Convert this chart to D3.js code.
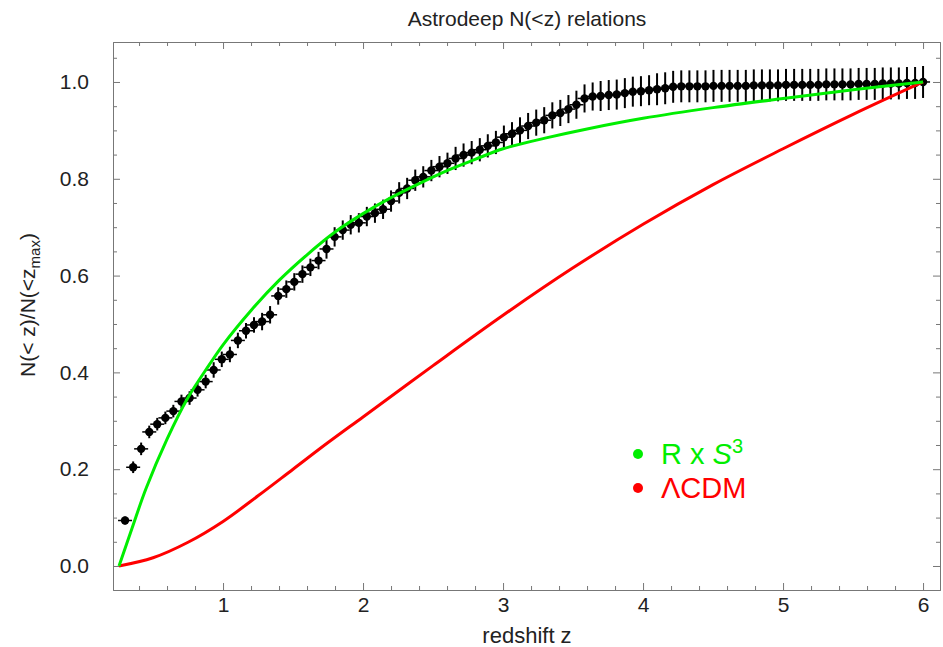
<!DOCTYPE html>
<html lang="en">
<head>
  <meta charset="UTF-8">
  <title>Astrodeep N(<z) relations</title>
  <style>
    body { margin: 0; background: #fff; }
    text { font-family: "Liberation Sans", Arial, sans-serif; }
  </style>
</head>
<body>
  <script src="https://d3js.org/d3.v7.min.js"></script>
  <script>
    // Binned data: redshift, normalised counts, vertical error
    let zVals = [0.300, 0.358, 0.415, 0.473, 0.530, 0.588, 0.645, 0.703, 0.761, 0.818,
      0.876, 0.933, 0.991, 1.049, 1.106, 1.164, 1.221, 1.279, 1.336, 1.394,
      1.452, 1.509, 1.567, 1.624, 1.682, 1.739, 1.797, 1.855, 1.912, 1.970,
      2.027, 2.085, 2.143, 2.200, 2.258, 2.315, 2.373, 2.430, 2.488, 2.546,
      2.603, 2.661, 2.718, 2.776, 2.834, 2.891, 2.949, 3.006, 3.064, 3.121,
      3.179, 3.237, 3.294, 3.352, 3.409, 3.467, 3.524, 3.582, 3.640, 3.697,
      3.755, 3.812, 3.870, 3.927, 3.985, 4.043, 4.100, 4.158, 4.215, 4.273,
      4.331, 4.388, 4.446, 4.503, 4.561, 4.618, 4.676, 4.734, 4.791, 4.849,
      4.906, 4.964, 5.021, 5.079, 5.137, 5.194, 5.252, 5.309, 5.367, 5.424,
      5.482, 5.540, 5.597, 5.655, 5.712, 5.770, 5.827, 5.885, 5.943, 6.000];

    let nVals = [0.094, 0.204, 0.242, 0.277, 0.293, 0.306, 0.320, 0.340, 0.347, 0.364,
      0.381, 0.405, 0.427, 0.437, 0.466, 0.486, 0.498, 0.505, 0.519, 0.558,
      0.572, 0.587, 0.603, 0.617, 0.631, 0.655, 0.680, 0.694, 0.705, 0.709,
      0.722, 0.729, 0.737, 0.754, 0.771, 0.780, 0.797, 0.804, 0.817, 0.825,
      0.832, 0.842, 0.849, 0.854, 0.860, 0.868, 0.875, 0.886, 0.893, 0.900,
      0.909, 0.916, 0.921, 0.931, 0.936, 0.944, 0.953, 0.966, 0.970, 0.971,
      0.973, 0.974, 0.977, 0.980, 0.981, 0.983, 0.985, 0.987, 0.990, 0.991,
      0.991, 0.991, 0.991, 0.992, 0.992, 0.992, 0.992, 0.992, 0.993, 0.993,
      0.993, 0.993, 0.994, 0.994, 0.994, 0.994, 0.994, 0.995, 0.995, 0.995,
      0.995, 0.996, 0.996, 0.996, 0.997, 0.997, 0.997, 0.998, 0.998, 1.000];

    let nErr = [0.008, 0.012, 0.013, 0.013, 0.013, 0.013, 0.013, 0.014, 0.014, 0.014,
      0.014, 0.016, 0.016, 0.016, 0.016, 0.016, 0.016, 0.018, 0.018, 0.018,
      0.018, 0.018, 0.018, 0.018, 0.018, 0.020, 0.020, 0.020, 0.020, 0.020,
      0.020, 0.020, 0.020, 0.022, 0.022, 0.022, 0.022, 0.022, 0.022, 0.022,
      0.022, 0.024, 0.024, 0.024, 0.024, 0.024, 0.024, 0.024, 0.024, 0.027,
      0.027, 0.027, 0.027, 0.027, 0.027, 0.029, 0.029, 0.029, 0.029, 0.031,
      0.031, 0.031, 0.031, 0.031, 0.031, 0.031, 0.033, 0.033, 0.033, 0.033,
      0.033, 0.033, 0.033, 0.033, 0.033, 0.033, 0.033, 0.033, 0.033, 0.033,
      0.033, 0.033, 0.033, 0.033, 0.033, 0.033, 0.033, 0.033, 0.033, 0.033,
      0.033, 0.033, 0.033, 0.033, 0.033, 0.033, 0.033, 0.033, 0.033, 0.033];

    // horizontal half-width of each bin
    let zErr = 0.05;

    // R x S^3 model curve
    let rsZ = [0.257, 0.35, 0.45, 0.6, 0.75, 0.9, 1.0, 1.2, 1.4, 1.6, 1.8, 2.0,
      2.2, 2.4, 2.6, 2.8, 3.0, 3.3, 3.6, 4.0, 4.5, 5.0, 5.5, 6.0];
    let rsN = [0.0, 0.078, 0.160, 0.262, 0.348, 0.415, 0.457, 0.528, 0.590, 0.643, 0.690, 0.728,
      0.761, 0.790, 0.817, 0.840, 0.862, 0.884, 0.903, 0.925, 0.947, 0.966, 0.984, 1.0];

    // LambdaCDM curve
    let lcZ = [0.257, 0.5, 0.75, 1.0, 1.25, 1.5, 1.75, 2.0, 2.5, 3.0, 3.5, 4.0, 4.5, 5.0, 5.5, 6.0];
    let lcN = [0.0, 0.017, 0.049, 0.092, 0.145, 0.200, 0.255, 0.308, 0.414, 0.518, 0.616, 0.706,
      0.788, 0.862, 0.933, 1.0];

    let xTicks = [1, 2, 3, 4, 5, 6];
    let yTicks = [0.0, 0.2, 0.4, 0.6, 0.8, 1.0];

    // SVG size and frame position
    let svgWidth = 943;
    let svgHeight = 647;
    let frame = { left: 113, right: 940, top: 42, bottom: 590 };
    let fontSize = "21px";

    let svg = d3.select("body")
      .append("svg")
      .attr("width", svgWidth)
      .attr("height", svgHeight);

    let x = d3.scaleLinear().domain([0.214, 6.121]).range([frame.left, frame.right]);
    let y = d3.scaleLinear().domain([-0.0496, 1.0826]).range([frame.bottom, frame.top]);

    let xMinor = d3.range(0.4, 6.1, 0.2).filter(v => Math.abs(v - Math.round(v)) > 0.01);
    let yMinor = d3.range(0, 1.06, 0.05).filter(v => Math.abs(v * 5 - Math.round(v * 5)) > 0.01);

    let frameColor = "#777";
    let labelColor = "#222";

    // draw one side of the frame: major ticks (maybe labelled) and minor ticks
    function drawSide(axisFn, scale, pos, major, minor, fmt, pad) {
      let g = svg.append("g").attr("transform", pos);
      g.call(axisFn(scale).tickValues(major).tickSize(-7).tickPadding(pad).tickFormat(fmt || ""));
      let gm = svg.append("g").attr("transform", pos);
      gm.call(axisFn(scale).tickValues(minor).tickSize(-4).tickFormat(""));
      gm.select(".domain").remove();
      svg.selectAll(".domain, .tick line").attr("stroke", frameColor);
      g.selectAll("text").attr("fill", labelColor).style("font-size", fontSize);
      return g;
    }

    drawSide(d3.axisBottom, x, `translate(0,${frame.bottom})`, xTicks, xMinor, d3.format("d"), 7);
    drawSide(d3.axisTop, x, `translate(0,${frame.top})`, xTicks, xMinor, null, 0);
    drawSide(d3.axisLeft, y, `translate(${frame.left},0)`, yTicks, yMinor, d3.format(".1f"), 24);
    drawSide(d3.axisRight, y, `translate(${frame.right},0)`, yTicks, yMinor, null, 0);

    // data points with error bars
    let points = zVals.map((z, i) => ({ z: z, n: nVals[i], e: nErr[i] }));
    let pts = svg.append("g");

    pts.selectAll(".hbar")
      .data(points)
      .enter()
      .append("line")
      .attr("x1", d => x(d.z - zErr))
      .attr("x2", d => x(d.z + zErr))
      .attr("y1", d => y(d.n))
      .attr("y2", d => y(d.n))
      .attr("stroke", "#000")
      .attr("stroke-width", 1.5);

    pts.selectAll(".vbar")
      .data(points)
      .enter()
      .append("line")
      .attr("x1", d => x(d.z))
      .attr("x2", d => x(d.z))
      .attr("y1", d => y(d.n - d.e))
      .attr("y2", d => y(d.n + d.e))
      .attr("stroke", "#000")
      .attr("stroke-width", 2);

    pts.selectAll("circle")
      .data(points)
      .enter()
      .append("circle")
      .attr("cx", d => x(d.z))
      .attr("cy", d => y(d.n))
      .attr("r", 4.2)
      .attr("fill", "#000");

    // model curves
    let line = d3.line()
      .x(d => x(d[0]))
      .y(d => y(d[1]))
      .curve(d3.curveCatmullRom.alpha(0.5));

    svg.append("path")
      .datum(lcZ.map((z, i) => [z, lcN[i]]))
      .attr("d", line)
      .attr("fill", "none")
      .attr("stroke", "#ff0000")
      .attr("stroke-width", 3);

    svg.append("path")
      .datum(rsZ.map((z, i) => [z, rsN[i]]))
      .attr("d", line)
      .attr("fill", "none")
      .attr("stroke", "#00ee00")
      .attr("stroke-width", 3);

    // legend
    let legend = svg.append("g");
    legend.append("circle").attr("cx", 638).attr("cy", 454).attr("r", 5).attr("fill", "#00ee00");
    legend.append("circle").attr("cx", 638).attr("cy", 488).attr("r", 5).attr("fill", "#ff0000");

    let t1 = legend.append("text")
      .attr("x", 661)
      .attr("y", 464)
      .attr("fill", "#00ee00")
      .style("font-size", "29px");
    t1.append("tspan").text("R x ");
    t1.append("tspan").style("font-style", "italic").text("S");
    t1.append("tspan").attr("dy", -11).style("font-size", "20px").text("3");

    legend.append("text")
      .attr("x", 661)
      .attr("y", 498)
      .attr("fill", "#ff0000")
      .style("font-size", "29px")
      .text("\u039bCDM");

    // title and axis labels
    svg.append("text")
      .attr("x", 527)
      .attr("y", 26)
      .attr("text-anchor", "middle")
      .attr("fill", labelColor)
      .style("font-size", fontSize)
      .text("Astrodeep N(<z) relations");

    svg.append("text")
      .attr("x", 527)
      .attr("y", 643)
      .attr("text-anchor", "middle")
      .attr("fill", labelColor)
      .style("font-size", "22px")
      .text("redshift z");

    let yl = svg.append("text")
      .attr("transform", "translate(35,305) rotate(-90)")
      .attr("text-anchor", "middle")
      .attr("fill", labelColor)
      .style("font-size", fontSize);
    yl.append("tspan").text("N(< z)/N(<z");
    yl.append("tspan").attr("dy", 5).style("font-size", "15px").text("max");
    yl.append("tspan").attr("dy", -5).text(")");
  </script>
</body>
</html>
